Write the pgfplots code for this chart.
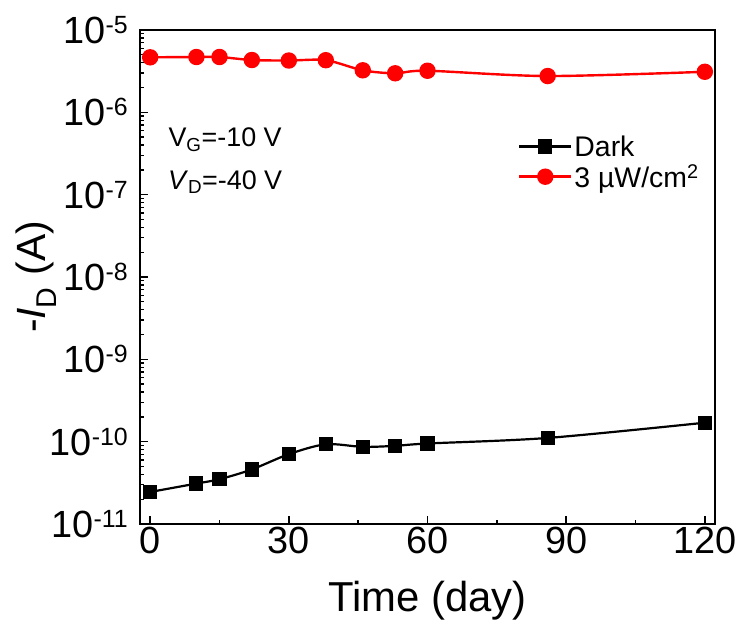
\documentclass[border=0pt]{standalone}
\usepackage{fontspec}
\setmainfont{Liberation Sans}
\usepackage{pgfplots}
\pgfplotsset{compat=1.18}
\newcommand{\tl}[1]{10\raisebox{10bp}{\fontsize{25}{25}\selectfont #1}}
\begin{document}
\begin{tikzpicture}
\path[use as bounding box] (-140bp,-104bp) rectangle (602bp,524bp);
\begin{axis}[
  scale only axis, width=575bp, height=494bp,
  xmin=-2.2, xmax=122.2,
  ymode=log, ymin=1e-11, ymax=1e-5,
  xtick={0,30,60,90,120}, xticklabels={0,30,60,90,120},
  minor x tick num=1,
  ytick={1e-11,1e-10,1e-9,1e-8,1e-7,1e-6,1e-5},
  yticklabels={\tl{-11},\tl{-10},\tl{-9},\tl{-8},\tl{-7},\tl{-6},\tl{-5}},
  tick align=inside, tick pos=left,
  major tick length=8bp, minor tick length=4.5bp,
  axis line style={line width=1.8bp},
  every tick/.style={line width=1.4bp, black},
  tick label style={font=\fontsize{38}{42}\selectfont},
  yticklabel style={inner sep=0bp, xshift=-12bp},
  xlabel={Time (day)},
  ylabel={-\textit{I}\textsubscript{D} (A)},
  xlabel style={font=\fontsize{42}{50}\selectfont, at={(axis description cs:0.5,0)}, anchor=base, yshift=-87bp},
  ylabel style={font=\fontsize{41}{50}\selectfont, at={(axis description cs:-0.181,0.5)}, anchor=center},
  legend style={at={(rel axis cs:0.652,0.795)}, anchor=north west, draw=none, fill=none,
    font=\fontsize{28.5}{33}\selectfont, row sep=3bp},
  legend cell align=left,
  legend image code/.code={\draw[mark repeat=2,mark phase=2,#1] plot coordinates {(0bp,0bp) (26bp,0bp) (52bp,0bp)};},
  clip=false,
]
\addplot[black, line width=2.2bp, smooth, tension=0.5, mark=square*, mark size=6bp, mark options={solid}]
coordinates {(0,2.45e-11) (10,3.1e-11) (15,3.5e-11) (22,4.6e-11) (30,7.05e-11) (38,9.3e-11) (46,8.65e-11) (53,8.9e-11) (60,9.5e-11) (86,1.11e-10) (120,1.7e-10)};
\addlegendentry{Dark}
\addplot[red, line width=2.4bp, smooth, tension=0.5, mark=*, mark size=7bp, mark options={solid}]
coordinates {(0,4.66e-6) (10,4.7e-6) (15,4.7e-6) (22,4.32e-6) (30,4.26e-6) (38,4.3e-6) (46,3.24e-6) (53,2.98e-6) (60,3.2e-6) (86,2.76e-6) (120,3.11e-6)};
\addlegendentry{3 µW/cm\textsuperscript{2}}
\node[align=center, font=\fontsize{27}{43}\selectfont] at (rel axis cs:0.148,0.735) {V\textsubscript{G}=-10 V\\\textit{V}\textsubscript{D}=-40 V};
\end{axis}
\end{tikzpicture}
\end{document}
